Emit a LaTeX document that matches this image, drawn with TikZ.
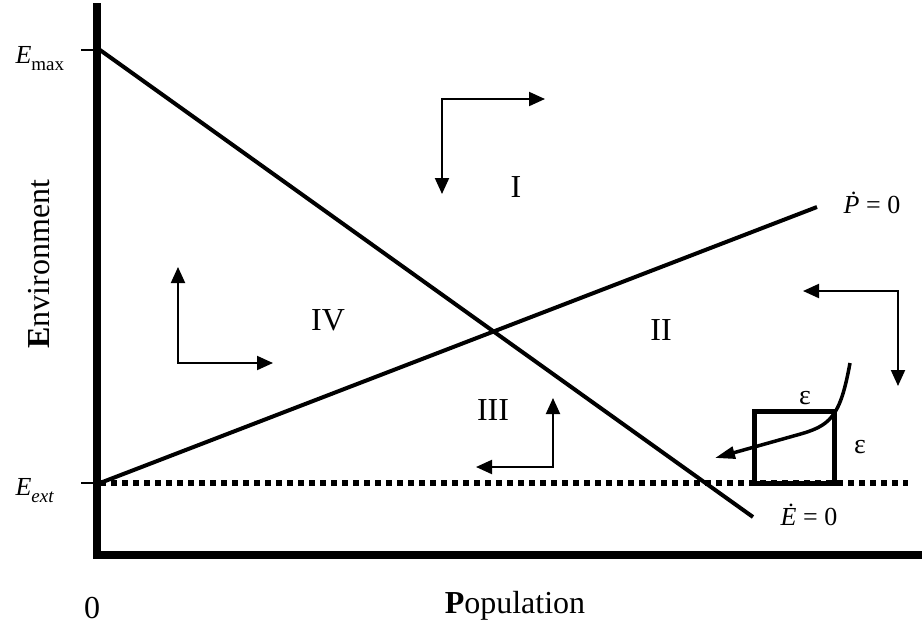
\documentclass[tikz,border=0pt]{standalone}
\usepackage{fontspec}
\setmainfont{Liberation Serif}
\usetikzlibrary{arrows.meta}

\begin{document}
\begin{tikzpicture}[
  x=1pt, y=-1pt,
  axis/.style={line width=7.5pt},
  tick/.style={line width=2pt},
  isocline/.style={line width=4pt},
  extline/.style={line width=5.5pt, dash pattern=on 6pt off 5pt},
  flow/.style={line width=2pt, {Triangle[length=16pt, width=14pt]}-{Triangle[length=16pt, width=14pt]}},
  path/.style={line width=3.5pt, -{Triangle[length=20pt, width=12pt]}},
  region/.style={font=\fontsize{32}{36}\selectfont},
  lbl/.style={font=\fontsize{26}{30}\selectfont},
  eps/.style={font=\fontsize{28}{32}\selectfont}
]
\useasboundingbox (0,0) rectangle (922,633);

% Axes
\coordinate (ytop) at (97,3);
\coordinate (origin) at (97,559);
\coordinate (xleft) at (93,555);
\coordinate (xright) at (922,555);
\draw[axis] (ytop) -- (origin);
\draw[axis] (xleft) -- (xright);

% Ticks and axis labels
\coordinate (emax) at (100,50);
\coordinate (eext) at (100,483);
\draw[tick] (81,50) -- (emax);
\draw[tick] (81,483) -- (eext);
\node[lbl, anchor=base west] (emaxlbl) at (12,63) {\textit{E}\raisebox{-0.28em}{\fontsize{19}{20}\selectfont max}};
\node[lbl, anchor=base west] (eextlbl) at (12,495) {\textit{E}\raisebox{-0.28em}{\fontsize{19}{20}\selectfont\itshape ext}};
\node[region] (zero) at (92,608) {0};
\node[region] (poplbl) at (515,606) {\textbf{P}opulation};
\node[region, rotate=90] (envlbl) at (39,264) {\textbf{E}nvironment};

% Isoclines
\coordinate (edotend) at (753,517);
\coordinate (pdotend) at (817,207);
\draw[isocline] (emax) -- (edotend);
\draw[isocline] (eext) -- (pdotend);
\node[lbl] (pdot) at (872,203) {\textit{Ṗ} = 0};
\node[lbl] (edot) at (809,515) {\textit{Ė} = 0};

% Extinction level
\coordinate (extend) at (908,483);
\draw[extline] (eext) -- (extend);

% Regions
\node[region] (rI) at (516,187) {I};
\node[region] (rII) at (661,330) {II};
\node[region] (rIII) at (493,410) {III};
\node[region] (rIV) at (328,320) {IV};

% Flow directions
\draw[flow] (545,99) -- (442,99) -- (442,194);
\draw[flow] (803,291) -- (898,291) -- (898,386);
\draw[flow] (553,398) -- (553,467) -- (476,467);
\draw[flow] (178,267) -- (178,363) -- (273,363);

% Epsilon box and trajectory
\draw[line width=5pt] (754,411) rectangle (834,483);
\node[eps] (epstop) at (805,398) {ε};
\node[eps] (epsright) at (860,447) {ε};
\coordinate (trajstart) at (850,363);
\coordinate (trajend) at (715,458);
\draw[path] (trajstart) .. controls (840,418) and (830,426) .. (797,435) -- (trajend);

\end{tikzpicture}
\end{document}
